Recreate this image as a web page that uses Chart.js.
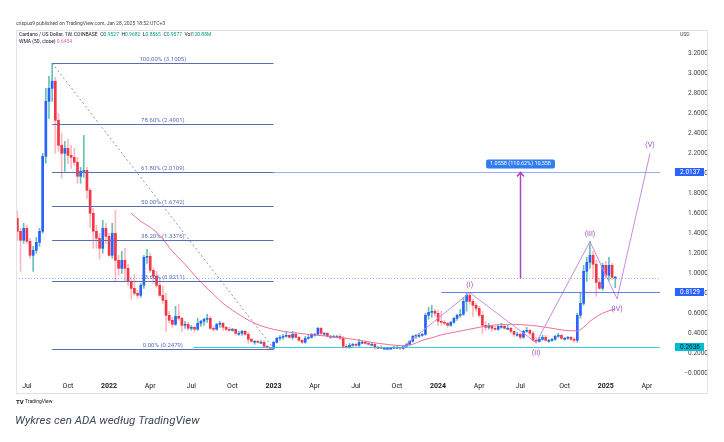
<!DOCTYPE html>
<html>
<head>
<meta charset="utf-8">
<script src="https://cdn.jsdelivr.net/npm/chart.js@4.4.1/dist/chart.umd.min.js"></script>
<style>
html, body { margin: 0; padding: 0; background: #fff; }
canvas { display: block; }
</style>
</head>
<body>
<canvas id="chart" width="724" height="442"></canvas>
<script>
// weekly ADA/USD candles, first bar = week of 14 Jun 2021
const firstWeek = '2021-06-14';
const open = [
  1.55,1.42,1.33,1.45,1.32,1.18,1.23,1.31,1.42,2.17,
  2.72,2.85,2.92,2.53,2.28,2.20,2.25,2.18,2.16,2.11,
  1.97,2.02,2.03,1.83,1.60,1.42,1.35,1.25,1.45,1.37,
  1.18,1.40,1.13,1.05,1.13,1.05,0.92,0.85,0.80,0.78,
  0.88,1.16,1.17,1.03,0.97,0.88,0.78,0.73,0.58,0.53,
  0.49,0.57,0.55,0.48,0.49,0.45,0.46,0.44,0.50,0.52,
  0.54,0.55,0.45,0.44,0.49,0.50,0.46,0.44,0.43,0.44,
  0.40,0.40,0.42,0.39,0.34,0.32,0.32,0.31,0.31,0.27,
  0.26,0.25,0.31,0.35,0.36,0.37,0.38,0.36,0.39,0.36,
  0.33,0.31,0.35,0.36,0.39,0.39,0.45,0.40,0.40,0.37,
  0.37,0.37,0.37,0.35,0.27,0.26,0.28,0.29,0.28,0.31,
  0.31,0.30,0.29,0.29,0.26,0.26,0.25,0.25,0.25,0.25,
  0.26,0.26,0.25,0.27,0.29,0.32,0.37,0.38,0.38,0.39,
  0.58,0.61,0.62,0.60,0.52,0.51,0.50,0.48,0.51,0.55,
  0.58,0.59,0.72,0.78,0.72,0.68,0.65,0.58,0.48,0.46,
  0.47,0.45,0.44,0.47,0.47,0.45,0.45,0.42,0.39,0.39,
  0.36,0.42,0.43,0.40,0.33,0.32,0.34,0.36,0.33,0.33,
  0.34,0.37,0.38,0.35,0.35,0.36,0.34,0.33,0.58,0.70,
  1.02,1.11,1.18,1.09,0.91,0.85,1.08,0.98,1.08,0.9527
];
const high = [
  1.62,1.45,1.50,1.48,1.35,1.27,1.36,1.45,2.20,2.85,
  2.97,3.10,2.96,2.60,2.40,2.32,2.34,2.28,2.25,2.16,
  2.06,2.38,2.06,1.85,1.65,1.48,1.40,1.53,1.50,1.40,
  1.50,1.63,1.18,1.22,1.25,1.09,0.96,0.99,0.83,0.90,
  1.18,1.24,1.20,1.05,1.02,0.96,0.87,0.80,0.62,0.56,
  0.67,0.69,0.56,0.52,0.51,0.48,0.47,0.55,0.53,0.55,
  0.59,0.57,0.47,0.50,0.52,0.51,0.47,0.46,0.45,0.44,
  0.42,0.43,0.43,0.41,0.35,0.33,0.33,0.33,0.33,0.28,
  0.26,0.32,0.36,0.38,0.39,0.42,0.39,0.42,0.41,0.37,
  0.34,0.37,0.38,0.40,0.40,0.46,0.46,0.41,0.41,0.38,
  0.38,0.38,0.39,0.37,0.29,0.30,0.30,0.30,0.34,0.33,
  0.32,0.31,0.31,0.30,0.27,0.28,0.26,0.26,0.26,0.27,
  0.27,0.26,0.28,0.30,0.33,0.38,0.39,0.40,0.40,0.60,
  0.66,0.68,0.64,0.63,0.62,0.53,0.51,0.52,0.56,0.59,
  0.64,0.76,0.80,0.81,0.74,0.70,0.67,0.62,0.52,0.50,
  0.48,0.47,0.48,0.50,0.48,0.48,0.46,0.42,0.41,0.40,
  0.43,0.46,0.44,0.42,0.36,0.36,0.38,0.38,0.34,0.35,
  0.38,0.40,0.39,0.36,0.37,0.37,0.36,0.60,0.80,1.08,
  1.16,1.32,1.22,1.13,0.95,1.10,1.12,1.16,1.10,0.9682
];
const low = [
  1.33,1.02,1.30,1.30,1.15,1.02,1.20,1.27,1.40,2.10,
  2.55,2.72,2.20,2.22,1.95,2.02,2.10,2.05,2.08,1.90,
  1.90,1.96,1.75,1.46,1.25,1.25,1.14,1.20,1.30,1.17,
  1.15,0.92,0.98,1.00,0.92,0.88,0.74,0.78,0.75,0.76,
  0.85,1.10,1.01,0.90,0.86,0.77,0.70,0.42,0.50,0.46,
  0.48,0.53,0.42,0.45,0.43,0.43,0.41,0.43,0.47,0.48,
  0.51,0.44,0.42,0.43,0.46,0.43,0.43,0.42,0.42,0.38,
  0.38,0.38,0.38,0.30,0.31,0.29,0.30,0.30,0.26,0.25,
  0.24,0.24,0.30,0.33,0.34,0.36,0.35,0.34,0.35,0.32,
  0.30,0.30,0.34,0.35,0.37,0.38,0.38,0.38,0.36,0.35,
  0.36,0.36,0.34,0.25,0.25,0.25,0.27,0.27,0.27,0.30,
  0.29,0.28,0.28,0.24,0.25,0.25,0.25,0.24,0.25,0.25,
  0.25,0.24,0.24,0.27,0.28,0.31,0.35,0.36,0.37,0.38,
  0.54,0.56,0.57,0.48,0.48,0.49,0.46,0.47,0.50,0.53,
  0.56,0.58,0.62,0.69,0.57,0.62,0.56,0.40,0.43,0.44,
  0.42,0.43,0.43,0.45,0.44,0.44,0.40,0.37,0.37,0.34,
  0.35,0.41,0.38,0.32,0.30,0.31,0.33,0.32,0.31,0.32,
  0.33,0.36,0.34,0.33,0.34,0.33,0.31,0.31,0.55,0.68,
  0.92,1.05,0.95,0.77,0.84,0.83,0.95,0.93,0.94,0.8565
];
const close = [
  1.42,1.33,1.45,1.32,1.18,1.23,1.31,1.42,2.17,2.72,
  2.85,2.92,2.53,2.28,2.20,2.25,2.18,2.16,2.11,1.97,
  2.02,2.03,1.83,1.60,1.42,1.35,1.25,1.45,1.37,1.18,
  1.40,1.13,1.05,1.13,1.05,0.92,0.85,0.80,0.78,0.88,
  1.16,1.17,1.03,0.97,0.88,0.78,0.73,0.58,0.53,0.49,
  0.57,0.55,0.48,0.49,0.45,0.46,0.44,0.50,0.52,0.54,
  0.55,0.45,0.44,0.49,0.50,0.46,0.44,0.43,0.44,0.40,
  0.40,0.42,0.39,0.34,0.32,0.32,0.31,0.31,0.27,0.26,
  0.25,0.31,0.35,0.36,0.37,0.38,0.36,0.39,0.36,0.33,
  0.31,0.35,0.36,0.39,0.39,0.45,0.40,0.40,0.37,0.37,
  0.37,0.37,0.35,0.27,0.26,0.28,0.29,0.28,0.31,0.31,
  0.30,0.29,0.29,0.26,0.26,0.25,0.25,0.25,0.25,0.26,
  0.26,0.25,0.27,0.29,0.32,0.37,0.38,0.38,0.39,0.58,
  0.61,0.62,0.60,0.52,0.51,0.50,0.48,0.51,0.55,0.58,
  0.59,0.72,0.78,0.72,0.68,0.65,0.58,0.48,0.46,0.47,
  0.45,0.44,0.47,0.47,0.45,0.45,0.42,0.39,0.39,0.36,
  0.42,0.43,0.40,0.33,0.32,0.34,0.36,0.33,0.33,0.34,
  0.37,0.38,0.35,0.35,0.36,0.34,0.33,0.58,0.70,1.02,
  1.11,1.18,1.09,0.91,0.85,1.08,0.98,1.08,0.96,0.9577
];
const volume = '120.88M';

// WMA(50, close): bar index into the arrays above, value
const wmaBar = [36,39,42,45,49,53,56,59,62,65,69,72,75,78,81,85,89,93,98,103,
  108,113,118,122,125,128,131,134,138,142,146,150,155,160,165,170,175,177,179,181,
  183,185,187,189];
const wmaValue = [1.60,1.52,1.46,1.38,1.22,1.09,0.98,0.88,0.79,0.70,0.61,0.55,0.50,0.465,0.44,0.415,0.40,0.385,0.372,0.355,
  0.33,0.305,0.285,0.275,0.29,0.33,0.355,0.385,0.41,0.435,0.46,0.48,0.49,0.485,0.47,0.445,0.425,0.425,0.46,0.52,
  0.565,0.60,0.625,0.6454];

// Fibonacci retracement
const fibFrom = '2021-08-30';
const fibTo = '2023-01-02';
const fibPct = ['100.00%','78.60%','61.80%','50.00%','38.20%','23.60%','0.00%'];
const fibPrice = [3.1005,2.4901,2.0109,1.6742,1.3376,0.9211,0.2479];

// horizontal levels
const levelPrice = [2.0137, 0.8129, 0.2636];
const levelFrom = ['2021-08-30', '2024-01-08', '2022-07-08'];

// Elliott wave count
const waveDate = ['2023-10-09','2024-03-11','2024-08-05','2024-12-02','2025-01-31','2025-04-14'];
const wavePrice = [0.243, 0.806, 0.306, 1.317, 0.745, 2.20];
const waveName = ['', '(I)', '(II)', '(III)', '(IV)', '(V)'];

// price range measure
const measureDate = '2024-07-01';
const measureFrom = 0.9577;
const measureTo = 2.0137;
const measureText = '1.0558 (110.62%) 10,558';

// axes
const tickDates = ['2021-07-05','2021-10-04','2022-01-03','2022-04-04','2022-07-04','2022-10-03','2023-01-02',
  '2023-04-03','2023-07-03','2023-10-02','2024-01-01','2024-04-01','2024-07-01','2024-10-07','2025-01-06','2025-04-07'];
const tickLabels = ['Jul','Oct','2022','Apr','Jul','Oct','2023','Apr','Jul','Oct','2024','Apr','Jul','Oct','2025','Apr'];
const priceTicks = [0,0.2,0.4,0.6,0.8,1.0,1.2,1.4,1.6,1.8,2.0,2.2,2.4,2.6,2.8,3.0,3.2];
const axisStart = '2021-06-11';
const axisEnd = '2025-05-06';
const priceMin = -0.047;
const priceMax = 3.263;

const REF = Date.UTC(2021, 6, 5);
function wk(s) {
  const p = s.split('-').map(Number);
  return (Date.UTC(p[0], p[1] - 1, p[2]) - REF) / (7 * 86400000);
}
const x0 = wk(firstWeek);
const up = close.map((c, k) => c >= open[k]);
const bodies = close.map((c, k) => ({x: x0 + k, y: [open[k], c]}));
const wicks = close.map((c, k) => ({x: x0 + k, y: [low[k], high[k]]}));
const wma = wmaBar.map((b, k) => ({x: x0 + b, y: wmaValue[k]}));
const waves = waveDate.map((d, k) => ({x: wk(d), y: wavePrice[k]}));
const diag = [{x: wk(fibFrom), y: fibPrice[0]}, {x: wk(fibTo), y: fibPrice[fibPrice.length - 1]}];
const last = close.length - 1;

const FONT = 'Roboto, "Liberation Sans", sans-serif';

function hline(ctx, x1, x2, y) {
  ctx.beginPath(); ctx.moveTo(x1, y); ctx.lineTo(x2, y); ctx.stroke();
}

const drawings = {
  id: 'drawings',
  afterDatasetsDraw(chart) {
    const {ctx, chartArea: a, scales: {x, y}} = chart;
    const X = d => x.getPixelForValue(wk(d));
    const Y = p => Math.round(y.getPixelForValue(p)) + 0.5;
    ctx.save();
    ctx.beginPath(); ctx.rect(a.left, a.top, a.right - a.left, a.bottom - a.top); ctx.clip();
    ctx.lineWidth = 1;

    // last price dotted line
    ctx.setLineDash([1, 2]);
    ctx.strokeStyle = 'rgba(41,98,255,0.5)';
    hline(ctx, a.left, a.right, Y(close[last]));
    ctx.setLineDash([]);

    // levels
    const lc = ['rgba(120,150,240,0.75)', 'rgba(80,105,235,0.85)', 'rgba(38,198,218,0.9)'];
    levelPrice.forEach((p, i) => {
      ctx.strokeStyle = lc[i];
      hline(ctx, X(levelFrom[i]), a.right, Y(p));
    });

    // fib levels
    const fx1 = X(fibFrom), fx2 = X(fibTo);
    ctx.strokeStyle = '#5a6fb0';
    ctx.fillStyle = '#5a6fb0';
    ctx.font = '6px ' + FONT;
    ctx.textAlign = 'center';
    ctx.textBaseline = 'bottom';
    fibPrice.forEach((p, i) => {
      hline(ctx, fx1, fx2, Y(p));
      ctx.fillText(fibPct[i] + ' (' + p.toFixed(4) + ')', (fx1 + fx2) / 2, Y(p) - 1);
    });

    // measure arrow
    const mx = Math.round(X(measureDate)) + 0.5;
    const my1 = Y(measureFrom), my2 = Y(measureTo);
    ctx.strokeStyle = '#ab47bc';
    ctx.lineWidth = 1.5;
    ctx.beginPath(); ctx.moveTo(mx, my1); ctx.lineTo(mx, my2); ctx.stroke();
    ctx.beginPath(); ctx.moveTo(mx - 3.5, my2 + 4); ctx.lineTo(mx, my2); ctx.lineTo(mx + 3.5, my2 + 4); ctx.stroke();
    ctx.font = '5.5px ' + FONT;
    const tw = ctx.measureText(measureText).width + 8;
    ctx.fillStyle = '#2f7cf6';
    ctx.beginPath();
    ctx.roundRect(mx - tw / 2, my2 - 13, tw, 9, 2);
    ctx.fill();
    ctx.fillStyle = '#fff';
    ctx.textBaseline = 'middle';
    ctx.fillText(measureText, mx, my2 - 8.5);

    // wave labels
    ctx.fillStyle = '#9b4fc0';
    ctx.font = '7px ' + FONT;
    waveName.forEach((n, i) => {
      if (!n) return;
      const px = X(waveDate[i]), py = Y(wavePrice[i]);
      const peak = i === 1 || i === 3 || i === 5;
      ctx.fillText(n, px, peak ? py - 8.5 : py + 9.5);
    });
    ctx.restore();
  },
  afterDraw(chart) {
    const {ctx, scales: {y}} = chart;
    ctx.save();
    // panel frame
    ctx.strokeStyle = '#e0e3eb';
    ctx.lineWidth = 1;
    ctx.strokeRect(16.5, 30.5, 691, 363);

    // price labels on the axis
    const boxes = [['#2962ff', '#fff'], ['#2962ff', '#fff'], ['#00bcd4', '#131722']];
    ctx.font = '6.5px ' + FONT;
    ctx.textAlign = 'right';
    ctx.textBaseline = 'middle';
    levelPrice.forEach((p, i) => {
      const py = y.getPixelForValue(p);
      ctx.fillStyle = boxes[i][0];
      ctx.fillRect(675, Math.round(py) - 4, 29, 8);
      ctx.fillStyle = boxes[i][1];
      ctx.fillText(p.toFixed(4), 700, py + 0.5);
    });
    ctx.fillStyle = '#434651';
    ctx.font = '5px ' + FONT;
    ctx.textAlign = 'left';
    ctx.fillText('USD', 680, 34.5);

    // header
    ctx.fillStyle = '#434651';
    ctx.fillText('crispus9 published on TradingView.com, Jan 28, 2025 18:52 UTC+3', 16, 24);
    let tx = 19;
    const put = (t, c) => { ctx.fillStyle = c; ctx.fillText(t, tx, 34.5); tx += ctx.measureText(t).width; };
    put('Cardano / US Dollar, 1W, COINBASE  ', '#131722');
    [['O', open[last]], ['H', high[last]], ['L', low[last]], ['C', close[last]]].forEach(v => {
      put(v[0], '#131722'); put(v[1].toFixed(4) + '  ', '#089981');
    });
    put('Vol', '#131722'); put(volume, '#089981');
    tx = 19;
    ctx.fillStyle = '#131722';
    ctx.fillText('WMA (50, close)', tx, 42);
    ctx.fillStyle = '#f06292';
    ctx.fillText(wmaValue[wmaValue.length - 1].toFixed(4), tx + ctx.measureText('WMA (50, close) ').width, 42);

    // logo + caption
    ctx.fillStyle = '#131722';
    ctx.font = 'bold 6px ' + FONT;
    ctx.fillText('TV', 16, 402);
    ctx.font = '5px ' + FONT;
    ctx.fillText('TradingView', 25, 402);
    ctx.fillStyle = '#3d4756';
    ctx.font = 'italic 11.5px ' + FONT;
    ctx.fillText('Wykres cen ADA według TradingView', 15, 421);
    ctx.restore();
  }
};

new Chart(document.getElementById('chart'), {
  type: 'bar',
  data: {
    datasets: [
      {type: 'line', data: waves, borderColor: '#c98be0', borderWidth: 1, pointRadius: 0, order: 0},
      {type: 'line', data: diag, borderColor: 'rgba(95,110,170,0.75)', borderWidth: 1, borderDash: [2, 2.5], pointRadius: 0, order: 0},
      {type: 'line', data: wma, borderColor: '#ee6f95', borderWidth: 1, pointRadius: 0, cubicInterpolationMode: 'monotone', order: 1},
      {data: bodies, backgroundColor: up.map(u => u ? '#2962ff' : '#f23645'), barThickness: 2, minBarLength: 1, grouped: false, order: 2},
      {data: wicks, backgroundColor: up.map(u => u ? 'rgba(38,166,154,0.7)' : 'rgba(242,54,69,0.35)'), barThickness: 1, grouped: false, order: 3}
    ]
  },
  options: {
    responsive: false,
    animation: false,
    events: [],
    layout: {padding: {left: 16, top: 47, right: 16, bottom: 49}},
    plugins: {legend: {display: false}, tooltip: {enabled: false}},
    scales: {
      x: {
        type: 'linear', min: wk(axisStart), max: wk(axisEnd), offset: false,
        grid: {display: false, drawTicks: false}, border: {display: false},
        afterBuildTicks: s => { s.ticks = tickDates.map(d => ({value: wk(d)})); },
        afterFit: s => { s.height = 15; },
        ticks: {
          autoSkip: false, maxRotation: 0, minRotation: 0, padding: 4, color: '#131722',
          font: c => ({family: FONT, size: 7, weight: /^\d{4}$/.test(tickLabels[c.index] || '') ? 'bold' : 'normal'}),
          callback: (v, i) => tickLabels[i]
        }
      },
      y: {
        position: 'right', min: priceMin, max: priceMax,
        grid: {display: false, drawTicks: false}, border: {display: false},
        afterBuildTicks: s => { s.ticks = priceTicks.map(v => ({value: v})); },
        afterFit: s => { s.width = 48; },
        ticks: {
          crossAlign: 'far', padding: 16, color: '#434651',
          font: {family: FONT, size: 6.5},
          callback: v => v === 0 ? '\u22120.0000' : v.toFixed(4)
        }
      }
    }
  },
  plugins: [drawings]
});
</script>
</body>
</html>
